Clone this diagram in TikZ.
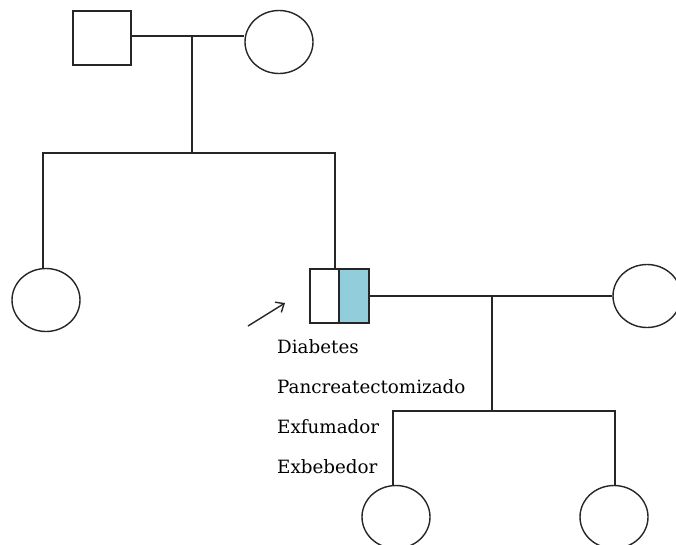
\documentclass[tikz,border=0pt]{standalone}
\usepackage{fontspec}
\setmainfont{DejaVu Serif}
\usetikzlibrary{shapes.geometric, arrows.meta}
\definecolor{affected}{HTML}{92CDDC}
\tikzset{
  line/.style={line width=1.4pt, draw=black!85},
  male/.style={line, rectangle, minimum width=58pt, minimum height=54pt, inner sep=0pt},
  female/.style={line, ellipse, minimum width=68pt, minimum height=63pt, inner sep=0pt},
  half/.style={line, rectangle, minimum height=54pt, inner sep=0pt},
  lbl/.style={anchor=base west, inner sep=0pt, font=\fontsize{18.3}{20}\selectfont},
}
\begin{document}
\begin{tikzpicture}[x=1pt, y=-1pt]
\useasboundingbox (0,0) rectangle (676,544);
% generation I
\node[male] (father) at (102,38) {};
\node[female] (mother) at (279,42) {};
\coordinate (m1) at (192,36);
\coordinate (s1) at (192,153);
\draw[line] (father.east |- m1) -- (mother.west |- m1);
\draw[line] (m1) -- (s1);
% generation II
\node[female] (sister) at (46,300) {};
\node[half, minimum width=29pt] (pl) at (324.5,296) {};
\node[half, minimum width=30pt, fill=affected] (pr) at (354,296) {};
\node[female] (wife) at (647,296) {};
\coordinate (sl) at (43,153);
\coordinate (sr) at (335,153);
\draw[line] (sister.north -| sl) -- (sl) -- (sr) -- (sr |- pl.north);
\draw[line] (pr.east) -- (wife.west);
\coordinate (m2) at (492,296);
\coordinate (s2) at (492,411);
\draw[line] (m2) -- (s2);
% proband arrow
\coordinate (a0) at (248,326);
\coordinate (a1) at (285,303);
\draw[line width=1.4pt, draw=black!85, -{Straight Barb[length=7pt, width=12pt]}] (a0) -- (a1);
% labels
\node[lbl] (t1) at (277,353) {Diabetes};
\node[lbl] (t2) at (277,393) {Pancreatectomizado};
\node[lbl] (t3) at (277,433) {Exfumador};
\node[lbl] (t4) at (277,473) {Exbebedor};
% generation III
\node[female] (c1) at (396,517) {};
\node[female] (c2) at (614,517) {};
\coordinate (cl) at (393,411);
\coordinate (cr) at (615,411);
\draw[line] (c1.north -| cl) -- (cl) -- (cr) -- (c2.north -| cr);
\end{tikzpicture}
\end{document}
